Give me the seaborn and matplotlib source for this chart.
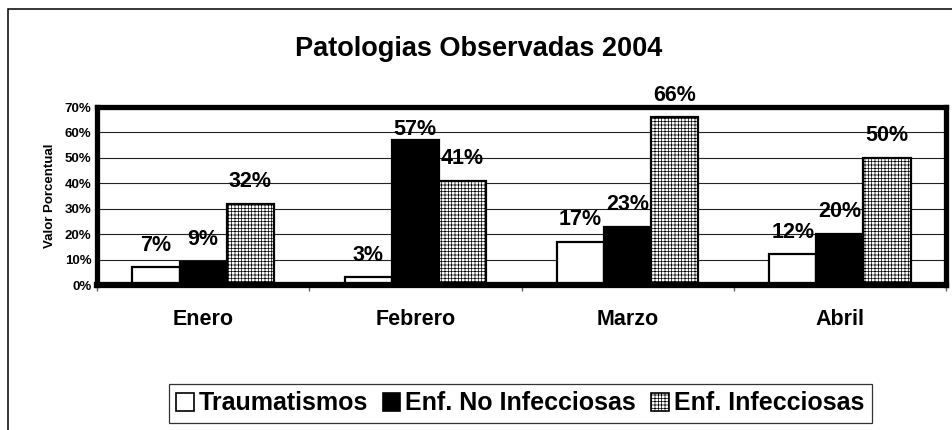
import numpy as np
import pandas as pd
import matplotlib
matplotlib.use("Agg")
import matplotlib.pyplot as plt
import matplotlib.patches as mpatches
from matplotlib.ticker import PercentFormatter, FixedLocator
import seaborn as sns

# Data
meses = ["Enero", "Febrero", "Marzo", "Abril"]
tipos = ["Traumatismos", "Enf. No Infecciosas", "Enf. Infecciosas"]
traumatismos = [0.07, 0.03, 0.17, 0.12]
no_infecciosas = [0.09, 0.57, 0.23, 0.20]
infecciosas = [0.32, 0.41, 0.66, 0.50]

# long form table for seaborn
df = pd.DataFrame({
    "mes": meses * 3,
    "tipo": [t for t in tipos for _ in meses],
    "valor": traumatismos + no_infecciosas + infecciosas,
})

colores = ["white", "black", "white"]
hatches = ["", "", "+++++"]

sns.set_theme(style="white")
plt.rcParams["font.family"] = ["Liberation Sans", "DejaVu Sans"]
plt.rcParams["font.weight"] = "bold"
plt.rcParams["text.color"] = "black"
plt.rcParams["axes.labelcolor"] = "black"
plt.rcParams["xtick.color"] = "black"
plt.rcParams["ytick.color"] = "black"
plt.rcParams["hatch.linewidth"] = 0.5
plt.rcParams["hatch.color"] = "#222222"

fig = plt.figure(figsize=(9.52, 4.30), dpi=100)
ax = fig.add_axes([97 / 952, 1 - 285 / 430, (946 - 97) / 952, (285 - 107) / 430])

sns.barplot(data=df, x="mes", y="valor", hue="tipo", hue_order=tipos,
            palette=colores, width=0.666, edgecolor="black", linewidth=1.6,
            saturation=1, legend=False, ax=ax, zorder=3)

for cont, h in zip(ax.containers, hatches):
    for p in cont:
        p.set_hatch(h)

# value labels
nudge = {(1, 1): -8}
for j, cont in enumerate(ax.containers):
    for i, p in enumerate(cont):
        v = p.get_height()
        ax.annotate(f"{v * 100:.0f}%", (p.get_x() + p.get_width() / 2, v),
                    xytext=(0, 12 + nudge.get((i, j), 0)), textcoords="offset points",
                    ha="center", va="baseline", fontsize=15.5, fontweight="bold",
                    color="black", annotation_clip=False, zorder=5)

ax.set_ylim(0, 0.70)
ax.set_xlim(-0.5, 3.5)
ax.yaxis.set_major_locator(FixedLocator(np.arange(0, 0.71, 0.1)))
ax.yaxis.set_major_formatter(PercentFormatter(1.0, decimals=0))
ax.grid(axis="y", color="#222222", linewidth=0.8, zorder=0)
ax.set_axisbelow(True)

for s in ["top", "left", "right"]:
    ax.spines[s].set_linewidth(3.8)
    ax.spines[s].set_color("black")
ax.spines["bottom"].set_linewidth(4.5)
ax.spines["bottom"].set_color("black")
ax.spines["bottom"].set_zorder(4)

ax.tick_params(axis="y", length=0, pad=4, labelsize=9.5)
ax.tick_params(axis="x", which="major", length=0, pad=17.5, labelsize=15.5)
ax.set_xticks(np.arange(-0.5, 4.0, 1.0), minor=True)
ax.tick_params(axis="x", which="minor", length=4, width=1, color="#666666", direction="out", bottom=True)
for lab in ax.get_xticklabels() + ax.get_yticklabels():
    lab.set_fontweight("bold")

ax.set_xlabel("")
ax.set_ylabel("Valor Porcentual", fontsize=9.5, fontweight="bold", labelpad=6)

fig.suptitle("Patologias Observadas 2004", x=479 / 952, y=1 - 49 / 430, va="center",
             fontsize=19.5, fontweight="bold", color="black")

# legend with hatched handle
handles = [mpatches.Patch(facecolor=c, edgecolor="black", hatch=h, linewidth=1.2, label=t)
           for c, h, t in zip(colores, hatches, tipos)]
leg = fig.legend(handles=handles, loc="center", bbox_to_anchor=(520 / 952, 1 - 403.5 / 430),
                 ncol=3, frameon=True, fancybox=False, handlelength=0.7,
                 handleheight=0.7, handletextpad=0.2, columnspacing=0.6,
                 borderpad=0.3, prop={"weight": "bold", "size": 18})
leg.get_frame().set_edgecolor("black")
leg.get_frame().set_linewidth(0.9)

# outer chart border (only left and top are visible in the picture)
fig.add_artist(mpatches.Rectangle((8 / 952, -0.2), 1.5, 1.2 - 9 / 430, fill=False,
                                  edgecolor="black", linewidth=1.1, transform=fig.transFigure,
                                  clip_on=False))

fig.savefig("out.png", dpi=100, facecolor="white")
